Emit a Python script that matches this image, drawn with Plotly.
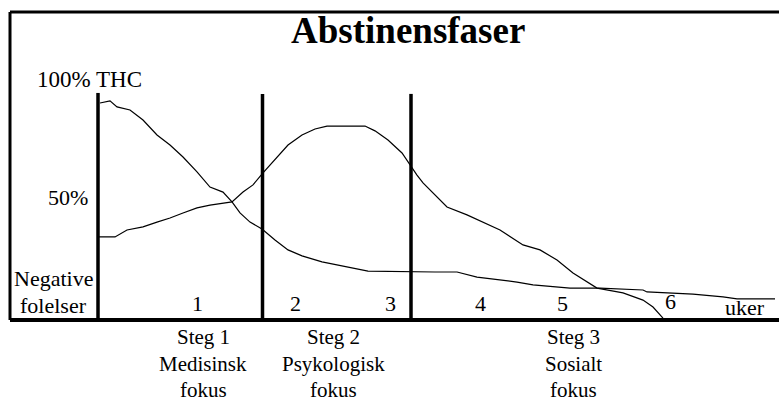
import plotly.graph_objects as go

# x: weeks from start of abstinence, y: percent level
thc_x = [0.03, 0.13, 0.20, 0.33, 0.46, 0.60, 0.73, 0.86, 1.00, 1.13, 1.26, 1.35, 1.43, 1.53,
         1.65, 1.78, 1.91, 2.05, 2.25, 2.45, 2.71, 3.38, 3.60, 3.80, 4.03, 4.20, 4.36, 4.56,
         4.73, 5.03, 5.46, 5.50, 5.70, 5.96, 6.26, 6.40, 6.78]
thc_y = [90.4, 91.3, 88.8, 87.5, 83.3, 77.1, 72.9, 67.9, 61.7, 55.4, 53.3, 49.2, 44.6, 40.8,
         37.9, 33.3, 29.2, 26.7, 24.2, 22.5, 20.4, 20.0, 20.0, 17.9, 16.7, 15.8, 14.6, 13.8,
         13.3, 13.3, 12.5, 11.7, 11.3, 10.8, 9.6, 8.8, 8.8]

neg_x = [0.02, 0.18, 0.30, 0.46, 0.60, 0.73, 0.86, 1.00, 1.13, 1.26, 1.35, 1.46, 1.56, 1.66,
         1.78, 1.91, 2.05, 2.18, 2.30, 2.68, 2.78, 2.91, 3.05, 3.13, 3.20, 3.26, 3.36, 3.50,
         3.70, 3.86, 4.03, 4.26, 4.43, 4.60, 4.76, 5.00, 5.26, 5.46, 5.56, 5.66]
neg_y = [34.6, 34.6, 37.5, 38.8, 40.8, 42.5, 44.6, 46.7, 47.9, 48.8, 49.2, 53.3, 56.3, 61.3,
         66.7, 72.9, 77.1, 79.6, 80.8, 80.8, 78.8, 75.0, 69.6, 64.6, 60.4, 57.1, 52.9, 47.1,
         43.8, 40.8, 37.5, 31.3, 29.2, 25.0, 19.6, 13.3, 11.3, 8.3, 5.4, 0.8]

phase_x = [0.01, 1.655, 3.14]
phase_top = [94.6, 94.2, 94.2]

week_labels = ["1", "2", "3", "4", "5", "6", "uker"]
week_label_x = [1.00, 1.98, 2.93, 3.83, 4.65, 5.73, 6.48]
week_label_y = [6.7, 6.7, 6.7, 6.7, 6.7, 7.9, 5.4]

stage_lines = [["Steg 1", "Medisinsk", "fokus"],
               ["Steg 2", "Psykologisk", "fokus"],
               ["Steg 3", "Sosialt", "fokus"]]
stage_x = [1.06, 2.36, 4.76]
stage_line_offsets = [17, 44, 70]  # px below the axis line, per text row

SERIF = "Liberation Serif, Times New Roman, serif"
PLOT_H = 308  # plot area height in px, used to place labels below the axis

fig = go.Figure()
for px_, top in zip(phase_x, phase_top):
    fig.add_trace(go.Scatter(x=[px_, px_], y=[0, top], mode="lines",
                             line=dict(color="black", width=3.5), hoverinfo="skip"))
fig.add_trace(go.Scatter(x=thc_x, y=thc_y, mode="lines", line=dict(color="black", width=1.2)))
fig.add_trace(go.Scatter(x=neg_x, y=neg_y, mode="lines", line=dict(color="black", width=1.2)))

ann = []
ann.append(dict(text="<b>Abstinensfaser</b>", x=3.11, y=120.8, xref="x", yref="y",
                showarrow=False, font=dict(size=37, family=SERIF, color="black")))
ann.append(dict(text="100% THC", x=-0.62, y=100, xanchor="left", showarrow=False,
                font=dict(size=23, family=SERIF, color="black")))
ann.append(dict(text="50%", x=-0.07, y=51.25, xanchor="right", showarrow=False,
                font=dict(size=22, family=SERIF, color="black")))
ann.append(dict(text="Negative", x=-0.44, y=17.5, showarrow=False,
                font=dict(size=22, family=SERIF, color="black")))
ann.append(dict(text="folelser", x=-0.44, y=6.25, showarrow=False,
                font=dict(size=22, family=SERIF, color="black")))
for t, x, y in zip(week_labels, week_label_x, week_label_y):
    ann.append(dict(text=t, x=x, y=y, showarrow=False,
                    font=dict(size=22, family=SERIF, color="black")))
for lines, x in zip(stage_lines, stage_x):
    for t, off in zip(lines, stage_line_offsets):
        ann.append(dict(text=t, x=x, y=-off / PLOT_H, yref="paper", yanchor="middle",
                        showarrow=False, borderpad=0,
                        font=dict(size=21, family=SERIF, color="black")))

shapes = [
    dict(type="line", xref="paper", yref="paper", x0=0, x1=0, y0=0, y1=1,
         line=dict(color="black", width=3)),
    dict(type="line", xref="paper", yref="paper", x0=0, x1=1, y0=1, y1=1,
         line=dict(color="black", width=3)),
    dict(type="line", xref="paper", yref="paper", x0=0, x1=1, y0=0, y1=0,
         line=dict(color="black", width=4)),
]

fig.update_layout(
    width=779, height=401,
    margin=dict(l=10, r=0, t=12, b=81),
    paper_bgcolor="white", plot_bgcolor="white",
    showlegend=False,
    xaxis=dict(range=[-0.87, 6.82], visible=False, fixedrange=True),
    yaxis=dict(range=[0, 128.33], visible=False, fixedrange=True),
    annotations=ann, shapes=shapes,
)
fig.write_html("out.html", config={"displayModeBar": False},
               post_script="document.body.style.margin='0';document.body.style.overflow='hidden';")
